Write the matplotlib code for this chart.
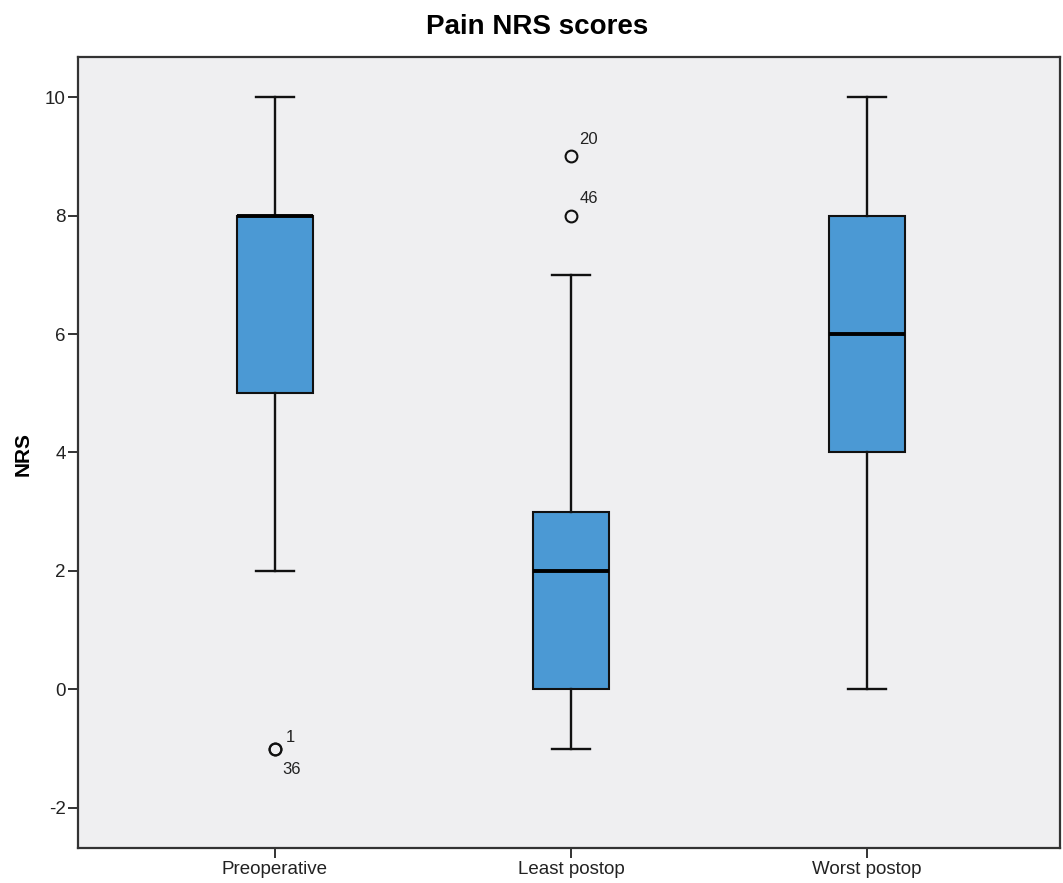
import numpy as np
import matplotlib.pyplot as plt

plt.rcParams["font.family"] = ["Liberation Sans", "DejaVu Sans"]
plt.rcParams["axes.unicode_minus"] = False

# Box statistics (NRS values)
groups = ["Preoperative", "Least postop", "Worst postop"]
whisker_low = [2, -1, 0]
q1 = [5, 0, 4]
medians = [8, 2, 6]
q3 = [8, 3, 8]
whisker_high = [10, 7, 10]
outliers = [[-1, -1], [9, 8], []]
outlier_ids = [["1", "36"], ["20", "46"], []]

stats = []
for i, name in enumerate(groups):
    stats.append(dict(label=name, whislo=whisker_low[i], q1=q1[i], med=medians[i],
                      q3=q3[i], whishi=whisker_high[i], fliers=outliers[i]))

fig = plt.figure(figsize=(10.63, 8.83), dpi=100)
ax = fig.add_axes([78 / 1063, 1 - 848 / 883, 982 / 1063, 791 / 883])
ax.set_facecolor("#efeff1")

positions = np.arange(1, len(groups) + 1)
ax.bxp(
    stats,
    positions=positions,
    widths=0.255,
    patch_artist=True,
    boxprops=dict(facecolor="#4b99d4", edgecolor="#111111", linewidth=1.5),
    medianprops=dict(color="black", linewidth=2.8),
    whiskerprops=dict(color="#111111", linewidth=1.7),
    capprops=dict(color="#111111", linewidth=1.7),
    capwidths=0.13,
    flierprops=dict(marker="o", markerfacecolor="none", markeredgecolor="#111111",
                    markersize=8.5, markeredgewidth=1.5),
)

# outlier case labels (offsets in points)
label_offsets = [[(8, 5), (5, -18)], [(6, 9), (6, 9)], []]
for i, (vals, ids) in enumerate(zip(outliers, outlier_ids)):
    for k, (v, lab) in enumerate(zip(vals, ids)):
        ax.annotate(lab, (positions[i], v), xytext=label_offsets[i][k],
                    textcoords="offset points", fontsize=12, color="#222222")

ax.set_xlim(0.3345, 3.652)
ax.set_ylim(-2.68, 10.68)
ax.set_yticks([-2, 0, 2, 4, 6, 8, 10])
ax.set_xticks(positions)
ax.set_xticklabels(groups)
ax.tick_params(axis="both", labelsize=13.5, length=7, width=1.4, color="#333333",
               labelcolor="#222222", pad=2)
for s in ax.spines.values():
    s.set_linewidth(1.6)
    s.set_color("#333333")

fig.text(23 / 1063, 1 - 454 / 883, "NRS", rotation=90, fontsize=15, fontweight="bold",
         ha="center", va="center")
fig.text(537 / 1063, 1 - 27 / 883, "Pain NRS scores", fontsize=20, fontweight="bold",
         ha="center", va="center")

fig.savefig("out.png", dpi=100)
